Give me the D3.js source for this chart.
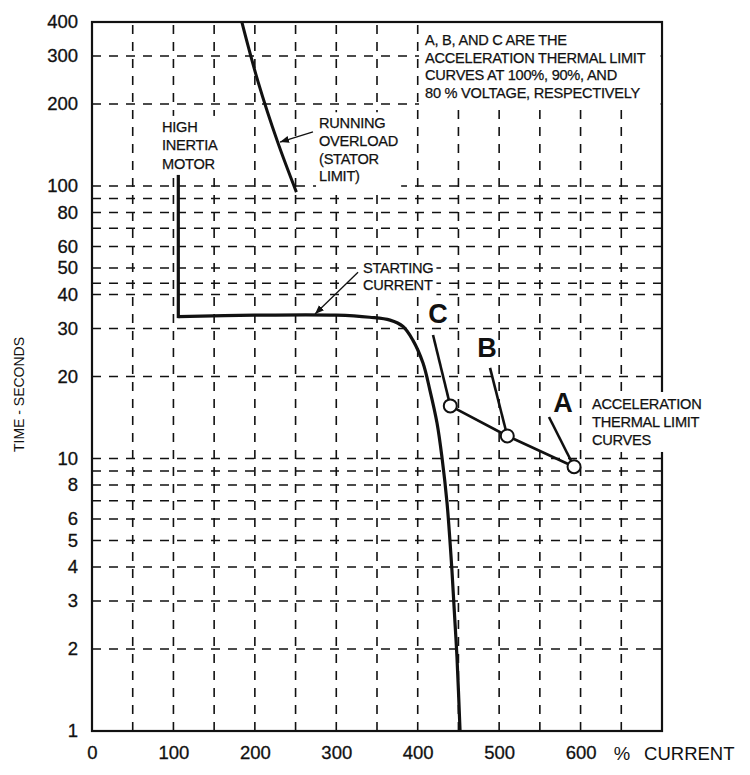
<!DOCTYPE html>
<html>
<head>
<meta charset="utf-8">
<script src="https://cdn.jsdelivr.net/npm/d3@7"></script>
<style>
  body { margin: 0; background: #fff; }
  svg text { font-family: "Liberation Sans", Arial, Helvetica, sans-serif; fill: #111; }
</style>
</head>
<body>
<div id="chart"></div>
<script>
// ---- data ----
const yTickValues = [1, 2, 3, 4, 5, 6, 8, 10, 20, 30, 40, 50, 60, 80, 100, 200, 300, 400];
const yGridValues = [2, 3, 4, 5, 6, 7, 8, 9, 10, 20, 30, 40, 44, 50, 60, 70, 80, 90, 100, 200, 300];
const xTickValues = [0, 100, 200, 300, 400, 500, 600];
const xGridValues = [50, 100, 150, 200, 250, 300, 350, 400, 450, 500, 550, 600, 650];

// running overload (stator limit): [% current, seconds]
const runningOverload = [[184, 400], [204, 241], [228, 145], [251, 95]];

// high inertia motor: vertical part, then the starting current curve
const highInertia = [[106, 110], [106, 33.2]];
const startingCurrent = [
  [106, 33.2], [200, 33.6], [300, 33.6], [341, 33.0], [366, 32.2],
  [382, 30.5], [394, 27.2], [406.5, 22.4], [415, 17.8], [423.7, 13.5],
  [429.8, 10.1], [436, 6.87], [442, 3.9], [445.8, 2.49], [448.2, 1.87], [452, 1]
];

// acceleration thermal limit points (C = 80%, B = 90%, A = 100% voltage)
const thermalLabels = ["C", "B", "A"];
const thermalCurrent = [440, 510, 592];
const thermalTime = [15.6, 12.1, 9.33];

class ThermalChart {
  constructor(_config) {
    this.config = {
      parentElement: _config.parentElement,
      containerWidth: _config.containerWidth,
      containerHeight: _config.containerHeight,
      margin: { top: 22, right: 88, bottom: 44, left: 92 },
    };
    this.initVis();
  }

  initVis() {
    let vis = this;

    vis.width = vis.config.containerWidth - vis.config.margin.left - vis.config.margin.right;
    vis.height = vis.config.containerHeight - vis.config.margin.top - vis.config.margin.bottom;

    vis.xScale = d3.scaleLinear().domain([0, 700]).range([0, vis.width]);
    vis.yScale = d3.scaleLog().domain([1, 400]).range([vis.height, 0]);

    vis.svg = d3.select(vis.config.parentElement)
      .append("svg")
      .attr("width", vis.config.containerWidth)
      .attr("height", vis.config.containerHeight);

    vis.chart = vis.svg.append("g")
      .attr("transform", `translate(${vis.config.margin.left},${vis.config.margin.top})`);

    vis.svg.append("defs").append("marker")
      .attr("id", "arrow")
      .attr("viewBox", "0 0 10 10")
      .attr("refX", 10).attr("refY", 5)
      .attr("markerWidth", 9).attr("markerHeight", 9)
      .attr("markerUnits", "userSpaceOnUse")
      .attr("orient", "auto")
      .append("path")
      .attr("d", "M0,1 L10,5 L0,9 Z")
      .attr("fill", "#111");

    vis.renderVis();
  }

  renderVis() {
    let vis = this;
    const x = vis.xScale, y = vis.yScale;

    // dashed grid
    const grid = vis.chart.append("g").attr("class", "grid")
      .attr("stroke", "#111").attr("stroke-width", 1.6).attr("stroke-dasharray", "9,8");
    grid.selectAll(".hgrid").data(yGridValues).join("line")
      .attr("class", "hgrid")
      .attr("x1", 0).attr("x2", vis.width)
      .attr("y1", d => y(d)).attr("y2", d => y(d));
    grid.selectAll(".vgrid").data(xGridValues).join("line")
      .attr("class", "vgrid")
      .attr("x1", d => x(d)).attr("x2", d => x(d))
      .attr("y1", vis.height).attr("y2", 0);

    // frame
    vis.chart.append("rect")
      .attr("width", vis.width).attr("height", vis.height)
      .attr("fill", "none").attr("stroke", "#111").attr("stroke-width", 2.2);

    // axes (labels only)
    const yAxis = d3.axisLeft(y).tickValues(yTickValues).tickFormat(d3.format("d")).tickSize(0).tickPadding(14);
    const yAxisGroup = vis.chart.append("g").call(yAxis);
    yAxisGroup.select(".domain").remove();
    yAxisGroup.selectAll("text").style("font-size", "18.5px").attr("font-family", null)
      .style("stroke", "#111").style("stroke-width", "0.3px");

    const xAxis = d3.axisBottom(x).tickValues(xTickValues).tickFormat(d3.format("d")).tickSize(0).tickPadding(15);
    const xAxisGroup = vis.chart.append("g").attr("transform", `translate(0,${vis.height})`).call(xAxis);
    xAxisGroup.select(".domain").remove();
    xAxisGroup.selectAll("text").style("font-size", "18.5px").attr("font-family", null)
      .style("stroke", "#111").style("stroke-width", "0.3px");

    vis.chart.append("text")
      .attr("x", x(651)).attr("y", vis.height + 29)
      .attr("text-anchor", "middle").style("font-size", "18.5px").text("%");
    vis.chart.append("text")
      .attr("x", x(678)).attr("y", vis.height + 29)
      .attr("text-anchor", "start").style("font-size", "18.5px").text("CURRENT");

    vis.svg.append("text")
      .attr("transform", `translate(24,${vis.config.margin.top + y(20) + 18}) rotate(-90)`)
      .attr("text-anchor", "middle").style("font-size", "14px").text("TIME - SECONDS");

    // curves
    vis.chart.append("path")
      .datum(runningOverload)
      .attr("d", d3.line().x(d => x(d[0])).y(d => y(d[1])).curve(d3.curveCatmullRom))
      .attr("fill", "none").attr("stroke", "#111").attr("stroke-width", 3);

    vis.chart.append("path")
      .datum(highInertia)
      .attr("d", d3.line().x(d => x(d[0])).y(d => y(d[1])))
      .attr("fill", "none").attr("stroke", "#111").attr("stroke-width", 3.2)
      .attr("stroke-linecap", "square");

    vis.chart.append("path")
      .datum(startingCurrent)
      .attr("d", d3.line().x(d => x(d[0])).y(d => y(d[1])).curve(d3.curveCatmullRom.alpha(0.5)))
      .attr("fill", "none").attr("stroke", "#111").attr("stroke-width", 3.2)
      .attr("stroke-linejoin", "round");

    // thermal limit connecting line + leaders
    const thermal = thermalLabels.map((l, i) => ({ label: l, current: thermalCurrent[i], time: thermalTime[i] }));
    vis.chart.append("path")
      .datum(thermal)
      .attr("d", d3.line().x(d => x(d.current)).y(d => y(d.time)))
      .attr("fill", "none").attr("stroke", "#111").attr("stroke-width", 2.6);

    // letter label anchors and leader starts, in data units
    const letterPos = { C: [424.8, 34.2], B: [485, 25.7], A: [578.4, 16.1] };
    const leaderStart = { C: [418.8, 28.4], B: [488.8, 21.5], A: [561.2, 14.2] };

    vis.chart.selectAll(".leader").data(thermal).join("line")
      .attr("class", "leader")
      .attr("x1", d => x(leaderStart[d.label][0])).attr("y1", d => y(leaderStart[d.label][1]))
      .attr("x2", d => x(d.current)).attr("y2", d => y(d.time))
      .attr("stroke", "#111").attr("stroke-width", 2.6);

    vis.chart.selectAll(".pt").data(thermal).join("circle")
      .attr("class", "pt")
      .attr("cx", d => x(d.current)).attr("cy", d => y(d.time))
      .attr("r", 6.5)
      .attr("fill", "#fff").attr("stroke", "#111").attr("stroke-width", 2);

    vis.chart.selectAll(".letter").data(thermal).join("text")
      .attr("class", "letter")
      .attr("x", d => x(letterPos[d.label][0])).attr("y", d => y(letterPos[d.label][1]))
      .attr("text-anchor", "middle").attr("dy", "0.36em")
      .style("font-size", "27px").style("font-weight", "bold")
      .text(d => d.label);

    // annotation arrows
    vis.chart.append("line")
      .attr("x1", x(271.4)).attr("y1", y(158)).attr("x2", x(230.9)).attr("y2", y(145))
      .attr("stroke", "#111").attr("stroke-width", 1.3).attr("marker-end", "url(#arrow)");
    vis.chart.append("line")
      .attr("x1", x(326.7)).attr("y1", y(48.3)).attr("x2", x(273.9)).attr("y2", y(33.9))
      .attr("stroke", "#111").attr("stroke-width", 1.3).attr("marker-end", "url(#arrow)");

    // text notes with white backing
    vis.addNote(["HIGH", "INERTIA", "MOTOR"], 86, 158, 18.5, 3);
    vis.addNote(["RUNNING", "OVERLOAD", "(STATOR", "LIMIT)"], 278.8, 163, 17.7, 3);
    vis.addNote(["STARTING", "CURRENT"], 332.8, 47.9, 17, 3);
    vis.addNote(["ACCELERATION", "THERMAL LIMIT", "CURVES"], 614, 15.2, 18, 4);
    const box = vis.addNote([
      "A, B, AND C ARE THE",
      "ACCELERATION THERMAL LIMIT",
      "CURVES AT 100%, 90%, AND",
      "80 % VOLTAGE, RESPECTIVELY"
    ], 409, 329, 17.5, 0);
    // top-right note box runs to the frame
    box.bg
      .attr("x", box.bb.x - 6)
      .attr("y", 3)
      .attr("width", vis.width - 1.5 - (box.bb.x - 6))
      .attr("height", box.bb.y + box.bb.height + 5 - 3);
  }

  addNote(lines, cx, cy, spacing, pad) {
    let vis = this;
    const g = vis.chart.append("g");
    const bg = g.append("rect").attr("fill", "#fff");
    const t = g.append("text")
      .attr("x", vis.xScale(cx)).attr("y", vis.yScale(cy))
      .style("font-size", "14.6px").style("letter-spacing", "-0.25px")
      .style("stroke", "#111").style("stroke-width", "0.25px");
    t.selectAll("tspan").data(lines).join("tspan")
      .attr("x", vis.xScale(cx))
      .attr("dy", (d, i) => i === 0 ? 0 : spacing)
      .text(d => d);
    const bb = t.node().getBBox();
    bg.attr("x", bb.x - pad).attr("y", bb.y - pad)
      .attr("width", bb.width + 2 * pad).attr("height", bb.height + 2 * pad);
    return { bg, bb };
  }
}

new ThermalChart({ parentElement: "#chart", containerWidth: 750, containerHeight: 775 });
</script>
</body>
</html>
